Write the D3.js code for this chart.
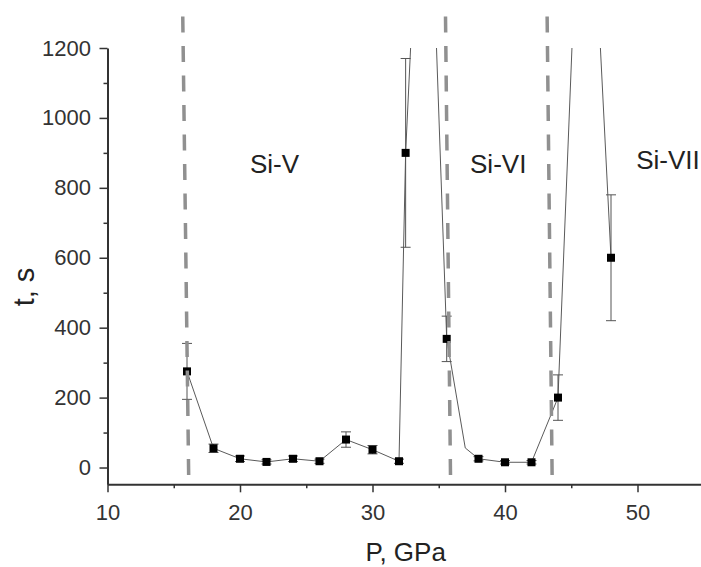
<!DOCTYPE html>
<html>
<head>
<meta charset="utf-8">
<script src="https://cdn.jsdelivr.net/npm/d3@7"></script>
<style>
  body { margin: 0; background: #fff; }
  svg { display: block; font-family: "Liberation Sans", Arial, sans-serif; }
</style>
</head>
<body>
<div id="chart"></div>
<script>
// measured points (P in GPa, t in s) with error bars
const pressure = [16, 18, 20, 22, 24, 26, 28, 30, 32, 32.5, 35.6, 38, 40, 42, 44, 48];
const time = [275, 55, 25, 16, 25, 18, 80, 51, 18, 900, 368, 25, 15, 15, 200, 600];
const timeErr = [80, 12, 8, 6, 8, 6, 22, 12, 6, 270, 65, 6, 5, 5, 65, 180];

// guide line through the points, incl. off-scale vertices
const lineP = [16, 18, 20, 22, 24, 26, 28, 30, 32, 32.5, 34, 35.6, 37, 38, 40, 42, 44, 46, 48];
const lineT = [275, 55, 25, 16, 25, 18, 80, 51, 18, 900, 2100, 368, 56, 25, 15, 15, 200, 2100, 600];

// phase boundaries (slightly tilted in the original)
const boundTop = [15.68, 35.51, 43.18];
const boundBottom = [16.13, 35.89, 43.56];
const boundRange = [1290, -36];

// phase labels, anchored at their left edge
const phaseNames = ["Si-V", "Si-VI", "Si-VII"];
const phaseP = [20.75, 37.36, 49.9];
const phaseT = [842, 842, 853];

const xMajor = [10, 20, 30, 40, 50];
const xMinor = [15, 25, 35, 45, 55];
const yMajor = [0, 200, 400, 600, 800, 1000, 1200];
const yMinor = [100, 300, 500, 700, 900, 1100];

const width = 701, height = 567;

const x = d3.scaleLinear().domain([10, 55]).range([107.5, 703.75]);
const y = d3.scaleLinear().domain([-48, 1200]).range([484.3, 48]);

const svg = d3.select("#chart")
    .append("svg")
    .attr("width", width)
    .attr("height", height);

svg.append("clipPath")
    .attr("id", "plot-clip")
    .append("rect")
    .attr("x", x(10))
    .attr("y", y(1200))
    .attr("width", width - x(10))
    .attr("height", y(-48) - y(1200));

const plot = svg.append("g").attr("clip-path", "url(#plot-clip)");

// connecting line
const line = d3.line()
    .x((d, i) => x(lineP[i]))
    .y((d) => y(d));

plot.append("path")
    .datum(lineT)
    .attr("d", line)
    .attr("fill", "none")
    .attr("stroke", "#5a5a5a")
    .attr("stroke-width", 1);

// dashed phase boundaries
svg.selectAll("line.bound")
    .data(boundTop)
    .enter()
    .append("line")
    .attr("class", "bound")
    .attr("x1", (d) => x(d))
    .attr("y1", y(boundRange[0]))
    .attr("x2", (d, i) => x(boundBottom[i]))
    .attr("y2", y(boundRange[1]))
    .attr("stroke", "#909090")
    .attr("stroke-width", 3.5)
    .attr("stroke-dasharray", "16,13.5");

// error bars
const err = plot.selectAll("g.err")
    .data(time)
    .enter()
    .append("g")
    .attr("class", "err")
    .attr("stroke", "#555")
    .attr("stroke-width", 1);

err.append("line")
    .attr("x1", (d, i) => x(pressure[i]))
    .attr("x2", (d, i) => x(pressure[i]))
    .attr("y1", (d, i) => y(d + timeErr[i]))
    .attr("y2", (d, i) => y(d - timeErr[i]));

[1, -1].forEach((s) => {
    err.append("line")
        .attr("x1", (d, i) => x(pressure[i]) - 5)
        .attr("x2", (d, i) => x(pressure[i]) + 5)
        .attr("y1", (d, i) => y(d + s * timeErr[i]))
        .attr("y2", (d, i) => y(d + s * timeErr[i]));
});

// square markers
plot.selectAll("rect.pt")
    .data(time)
    .enter()
    .append("rect")
    .attr("class", "pt")
    .attr("x", (d, i) => x(pressure[i]) - 4)
    .attr("y", (d) => y(d) - 4)
    .attr("width", 8)
    .attr("height", 8)
    .attr("fill", "#000");

// axes
function styleAxis(g) {
    g.selectAll(".domain").attr("stroke", "#333").attr("stroke-width", 2);
    g.selectAll(".tick line").attr("stroke", "#333").attr("stroke-width", 1.5);
    g.selectAll(".tick text")
        .attr("fill", "#333")
        .style("font-size", "22px")
        .style("font-family", "Liberation Sans, Arial, sans-serif");
}

svg.append("g")
    .attr("transform", `translate(0,${y(-48)})`)
    .call(d3.axisBottom(x).tickValues(xMinor).tickSize(4).tickSizeOuter(0).tickFormat(""))
    .call((g) => g.select(".domain").remove())
    .call(styleAxis);

svg.append("g")
    .attr("transform", `translate(0,${y(-48)})`)
    .call(d3.axisBottom(x).tickValues(xMajor).tickSize(8).tickSizeOuter(0)
        .tickPadding(12).tickFormat(d3.format("d")))
    .call(styleAxis);

svg.append("g")
    .attr("transform", `translate(${x(10)},0)`)
    .call(d3.axisLeft(y).tickValues(yMinor).tickSize(4).tickSizeOuter(0).tickFormat(""))
    .call((g) => g.select(".domain").remove())
    .call(styleAxis);

svg.append("g")
    .attr("transform", `translate(${x(10)},0)`)
    .call(d3.axisLeft(y).tickValues(yMajor).tickSize(8).tickSizeOuter(0)
        .tickPadding(8.5).tickFormat(d3.format("d")))
    .call(styleAxis);

// phase labels
svg.selectAll("text.phase")
    .data(phaseNames)
    .enter()
    .append("text")
    .attr("class", "phase")
    .attr("x", (d, i) => x(phaseP[i]))
    .attr("y", (d, i) => y(phaseT[i]))
    .attr("fill", "#222")
    .style("font-size", "26px")
    .text((d) => d);

// axis titles
svg.append("text")
    .attr("x", (x(10) + x(55)) / 2)
    .attr("y", 561)
    .attr("text-anchor", "middle")
    .attr("fill", "#222")
    .style("font-size", "26px")
    .text("P, GPa");

svg.append("text")
    .attr("transform", "translate(34,287) rotate(-90)")
    .attr("text-anchor", "middle")
    .attr("fill", "#222")
    .style("font-size", "29px")
    .text("t, s");
</script>
</body>
</html>
